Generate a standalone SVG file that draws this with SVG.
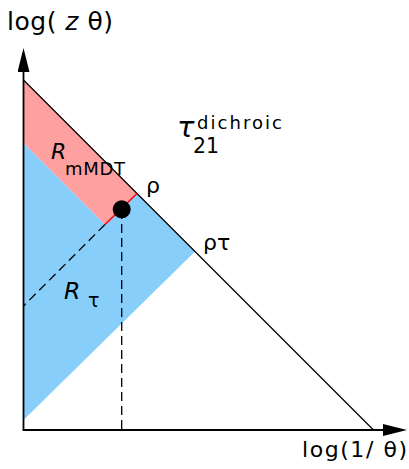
<svg xmlns="http://www.w3.org/2000/svg" width="409" height="469" viewBox="0 0 409 469">
<style>
text{font-family:"DejaVu Sans","Liberation Sans",sans-serif;fill:#000}
.it{font-style:italic}
.ax{stroke:#000;stroke-width:1.8;fill:none}
.ln{stroke:#000;stroke-width:1.3;fill:none}
.dash{stroke:#000;stroke-width:1.3;fill:none;stroke-dasharray:9,5}
</style>
<defs>
<marker id="arr" markerWidth="24" markerHeight="12" refX="0" refY="6" orient="auto" markerUnits="userSpaceOnUse">
<path d="M0,0 L24,6 L0,12 Z" fill="#000"/>
</marker>
</defs>
<g id="region-tau">
<polygon points="23.5,143 105,224.5 137,193.5 195,251.5 23.5,420" fill="#87cefa"/>
</g>
<g id="region-mmdt">
<polygon points="23.5,80 137,193.5 105,224.5 23.5,143" fill="#ffa0a0"/>
</g>
<g id="connectors">
<line class="ax" x1="23.5" y1="430" x2="23.5" y2="72" marker-end="url(#arr)"/>
<line class="ax" x1="22.6" y1="430" x2="383" y2="430" marker-end="url(#arr)"/>
<line class="ln" x1="23.5" y1="80" x2="374" y2="430.5"/>
<line x1="105" y1="224.5" x2="137" y2="193.5" stroke="#ff0000" stroke-width="1.5"/>
<line class="dash" x1="105" y1="224.5" x2="23.5" y2="306"/>
<line class="dash" x1="121.7" y1="210" x2="121.7" y2="430"/>
</g>
<g id="point">
<circle cx="121.7" cy="209.3" r="9" fill="#000"/>
</g>
<g id="labels">
<text x="7" y="30" font-size="25" textLength="106" lengthAdjust="spacing">log( <tspan class="it">z</tspan> θ)</text>
<text x="302" y="457" font-size="22" textLength="105" lengthAdjust="spacing">log(1/ θ)</text>
<text x="177" y="137" font-size="29" font-family="'Liberation Serif',serif" class="it">τ</text>
<text x="193" y="153" font-size="20.5" textLength="26" lengthAdjust="spacing">21</text>
<text x="197" y="129" font-size="18" textLength="85" lengthAdjust="spacing">dichroic</text>
<text x="51" y="159" font-size="22" class="it">R</text>
<text x="65" y="175" font-size="18" textLength="60" lengthAdjust="spacing">mMDT</text>
<text x="146" y="193" font-size="22">ρ</text>
<text x="203" y="250" font-size="22">ρτ</text>
<text x="64" y="299" font-size="23.5" class="it">R</text>
<text x="88" y="307" font-size="19">τ</text>
</g>
</svg>
